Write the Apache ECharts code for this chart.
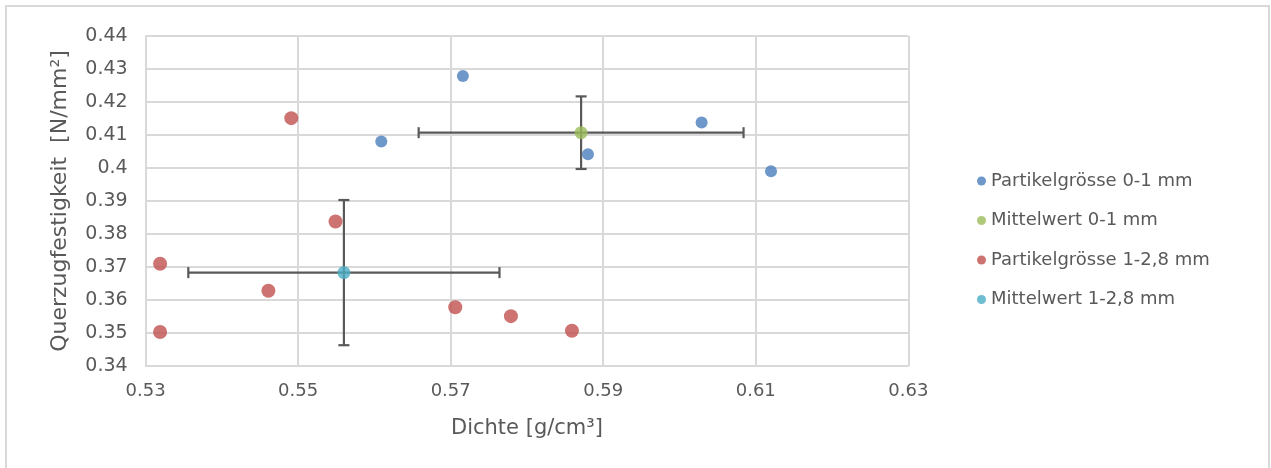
<!DOCTYPE html>
<html>
<head>
<meta charset="utf-8">
<script src="https://cdn.jsdelivr.net/npm/echarts@6/dist/echarts.min.js"></script>
<style>
  html, body { margin: 0; padding: 0; background: #ffffff; }
  #chart { width: 1271px; height: 468px; }
</style>
</head>
<body>
<div id="chart"></div>
<script>
// Density (x) vs. transverse tensile strength (y) per particle size class
const seriesNames = [
  'Partikelgrösse 0-1 mm',
  'Mittelwert 0-1 mm',
  'Partikelgrösse 1-2,8 mm',
  'Mittelwert 1-2,8 mm'
];

const fineDensity  = [0.5716, 0.5609, 0.5880, 0.6029, 0.6120];
const fineStrength = [0.4279, 0.4080, 0.4042, 0.4138, 0.3990];

const coarseDensity  = [0.5491, 0.5549, 0.5319, 0.5461, 0.5319, 0.5706, 0.5779, 0.5859];
const coarseStrength = [0.4151, 0.3838, 0.3710, 0.3628, 0.3503, 0.3578, 0.3551, 0.3507];

// Mean values with standard deviations (density, strength)
const meanDensity  = [0.5871, 0.5560];
const meanStrength = [0.4107, 0.3683];
const sdDensity    = [0.0213, 0.0204];
const sdStrength   = [0.0110, 0.0220];

const xTicks = { min: 0.53, max: 0.63, step: 0.02 };
const yTicks = { min: 0.34, max: 0.44, step: 0.01 };

const colors = ['#4a7ebb', '#9bbb59', '#c0504d', '#4bacc6'];
const textColor = '#595959';
const gridColor = '#d9d9d9';
const fontFamily = '"DejaVu Sans", "Open Sans", sans-serif';

const pairs = (xs, ys) => xs.map((x, i) => [x, ys[i]]);

const errorData = meanDensity.map((x, i) => [x, meanStrength[i], sdDensity[i], sdStrength[i]]);

function renderErrorBars(params, api) {
  const x = api.value(0), y = api.value(1);
  const ex = api.value(2), ey = api.value(3);
  const left = api.coord([x - ex, y]);
  const right = api.coord([x + ex, y]);
  const top = api.coord([x, y + ey]);
  const bottom = api.coord([x, y - ey]);
  const cap = 5.5;
  const style = { stroke: textColor, lineWidth: 2.2 };
  const line = (x1, y1, x2, y2) => ({ type: 'line', shape: { x1, y1, x2, y2 }, style });
  return {
    type: 'group',
    children: [
      line(left[0], left[1], right[0], right[1]),
      line(top[0], top[1], bottom[0], bottom[1]),
      line(left[0], left[1] - cap, left[0], left[1] + cap),
      line(right[0], right[1] - cap, right[0], right[1] + cap),
      line(top[0] - cap, top[1], top[0] + cap, top[1]),
      line(bottom[0] - cap, bottom[1], bottom[0] + cap, bottom[1])
    ]
  };
}

const chart = echarts.init(document.getElementById('chart'), null, { renderer: 'canvas' });

chart.setOption({
  animation: false,
  backgroundColor: '#ffffff',
  color: colors,
  textStyle: { fontFamily },
  graphic: [{
    type: 'rect',
    shape: { x: 6, y: 6, width: 1263, height: 470 },
    style: { fill: 'none', stroke: gridColor, lineWidth: 2 },
    silent: true
  }],
  grid: { left: 145.6, right: 362.7, top: 36, bottom: 102, containLabel: false },
  legend: {
    orient: 'vertical',
    left: 972,
    top: 166,
    itemGap: 19.5,
    itemWidth: 9,
    itemHeight: 9,
    icon: 'circle',
    data: seriesNames,
    textStyle: { color: textColor, fontSize: 18, lineHeight: 20, fontFamily, padding: [0, 0, 0, 0] }
  },
  xAxis: {
    type: 'value',
    min: xTicks.min, max: xTicks.max, interval: xTicks.step,
    name: 'Dichte [g/cm³]',
    nameLocation: 'middle',
    nameGap: 52,
    nameTextStyle: { color: textColor, fontSize: 21, fontFamily },
    axisLine: { show: true, lineStyle: { color: gridColor, width: 2 } },
    axisTick: { show: false },
    axisLabel: {
      color: textColor, fontSize: 18, margin: 16, fontFamily,
      formatter: v => v.toFixed(2)
    },
    splitLine: { show: true, lineStyle: { color: gridColor, width: 2 } }
  },
  yAxis: {
    type: 'value',
    min: yTicks.min, max: yTicks.max, interval: yTicks.step,
    name: 'Querzugfestigkeit  [N/mm²]',
    nameLocation: 'middle',
    nameGap: 74,
    nameTextStyle: { color: textColor, fontSize: 22, fontFamily },
    axisLine: { show: true, lineStyle: { color: gridColor, width: 2 } },
    axisTick: { show: false },
    axisLabel: {
      color: textColor, fontSize: 19, margin: 18, fontFamily,
      formatter: v => String(parseFloat(v.toFixed(2)))
    },
    splitLine: { show: true, lineStyle: { color: gridColor, width: 2 } }
  },
  series: [
    {
      type: 'custom',
      renderItem: renderErrorBars,
      data: errorData,
      encode: { x: 0, y: 1 },
      z: 1,
      silent: true
    },
    {
      name: seriesNames[0], type: 'scatter', symbol: 'circle', symbolSize: 12,
      data: pairs(fineDensity, fineStrength), z: 3,
      itemStyle: { color: colors[0] }
    },
    {
      name: seriesNames[1], type: 'scatter', symbol: 'circle', symbolSize: 13,
      data: pairs([meanDensity[0]], [meanStrength[0]]), z: 4,
      itemStyle: { color: colors[1] }
    },
    {
      name: seriesNames[2], type: 'scatter', symbol: 'circle', symbolSize: 14,
      data: pairs(coarseDensity, coarseStrength), z: 3,
      itemStyle: { color: colors[2] }
    },
    {
      name: seriesNames[3], type: 'scatter', symbol: 'circle', symbolSize: 13,
      data: pairs([meanDensity[1]], [meanStrength[1]]), z: 4,
      itemStyle: { color: colors[3] }
    }
  ]
});
</script>
</body>
</html>
